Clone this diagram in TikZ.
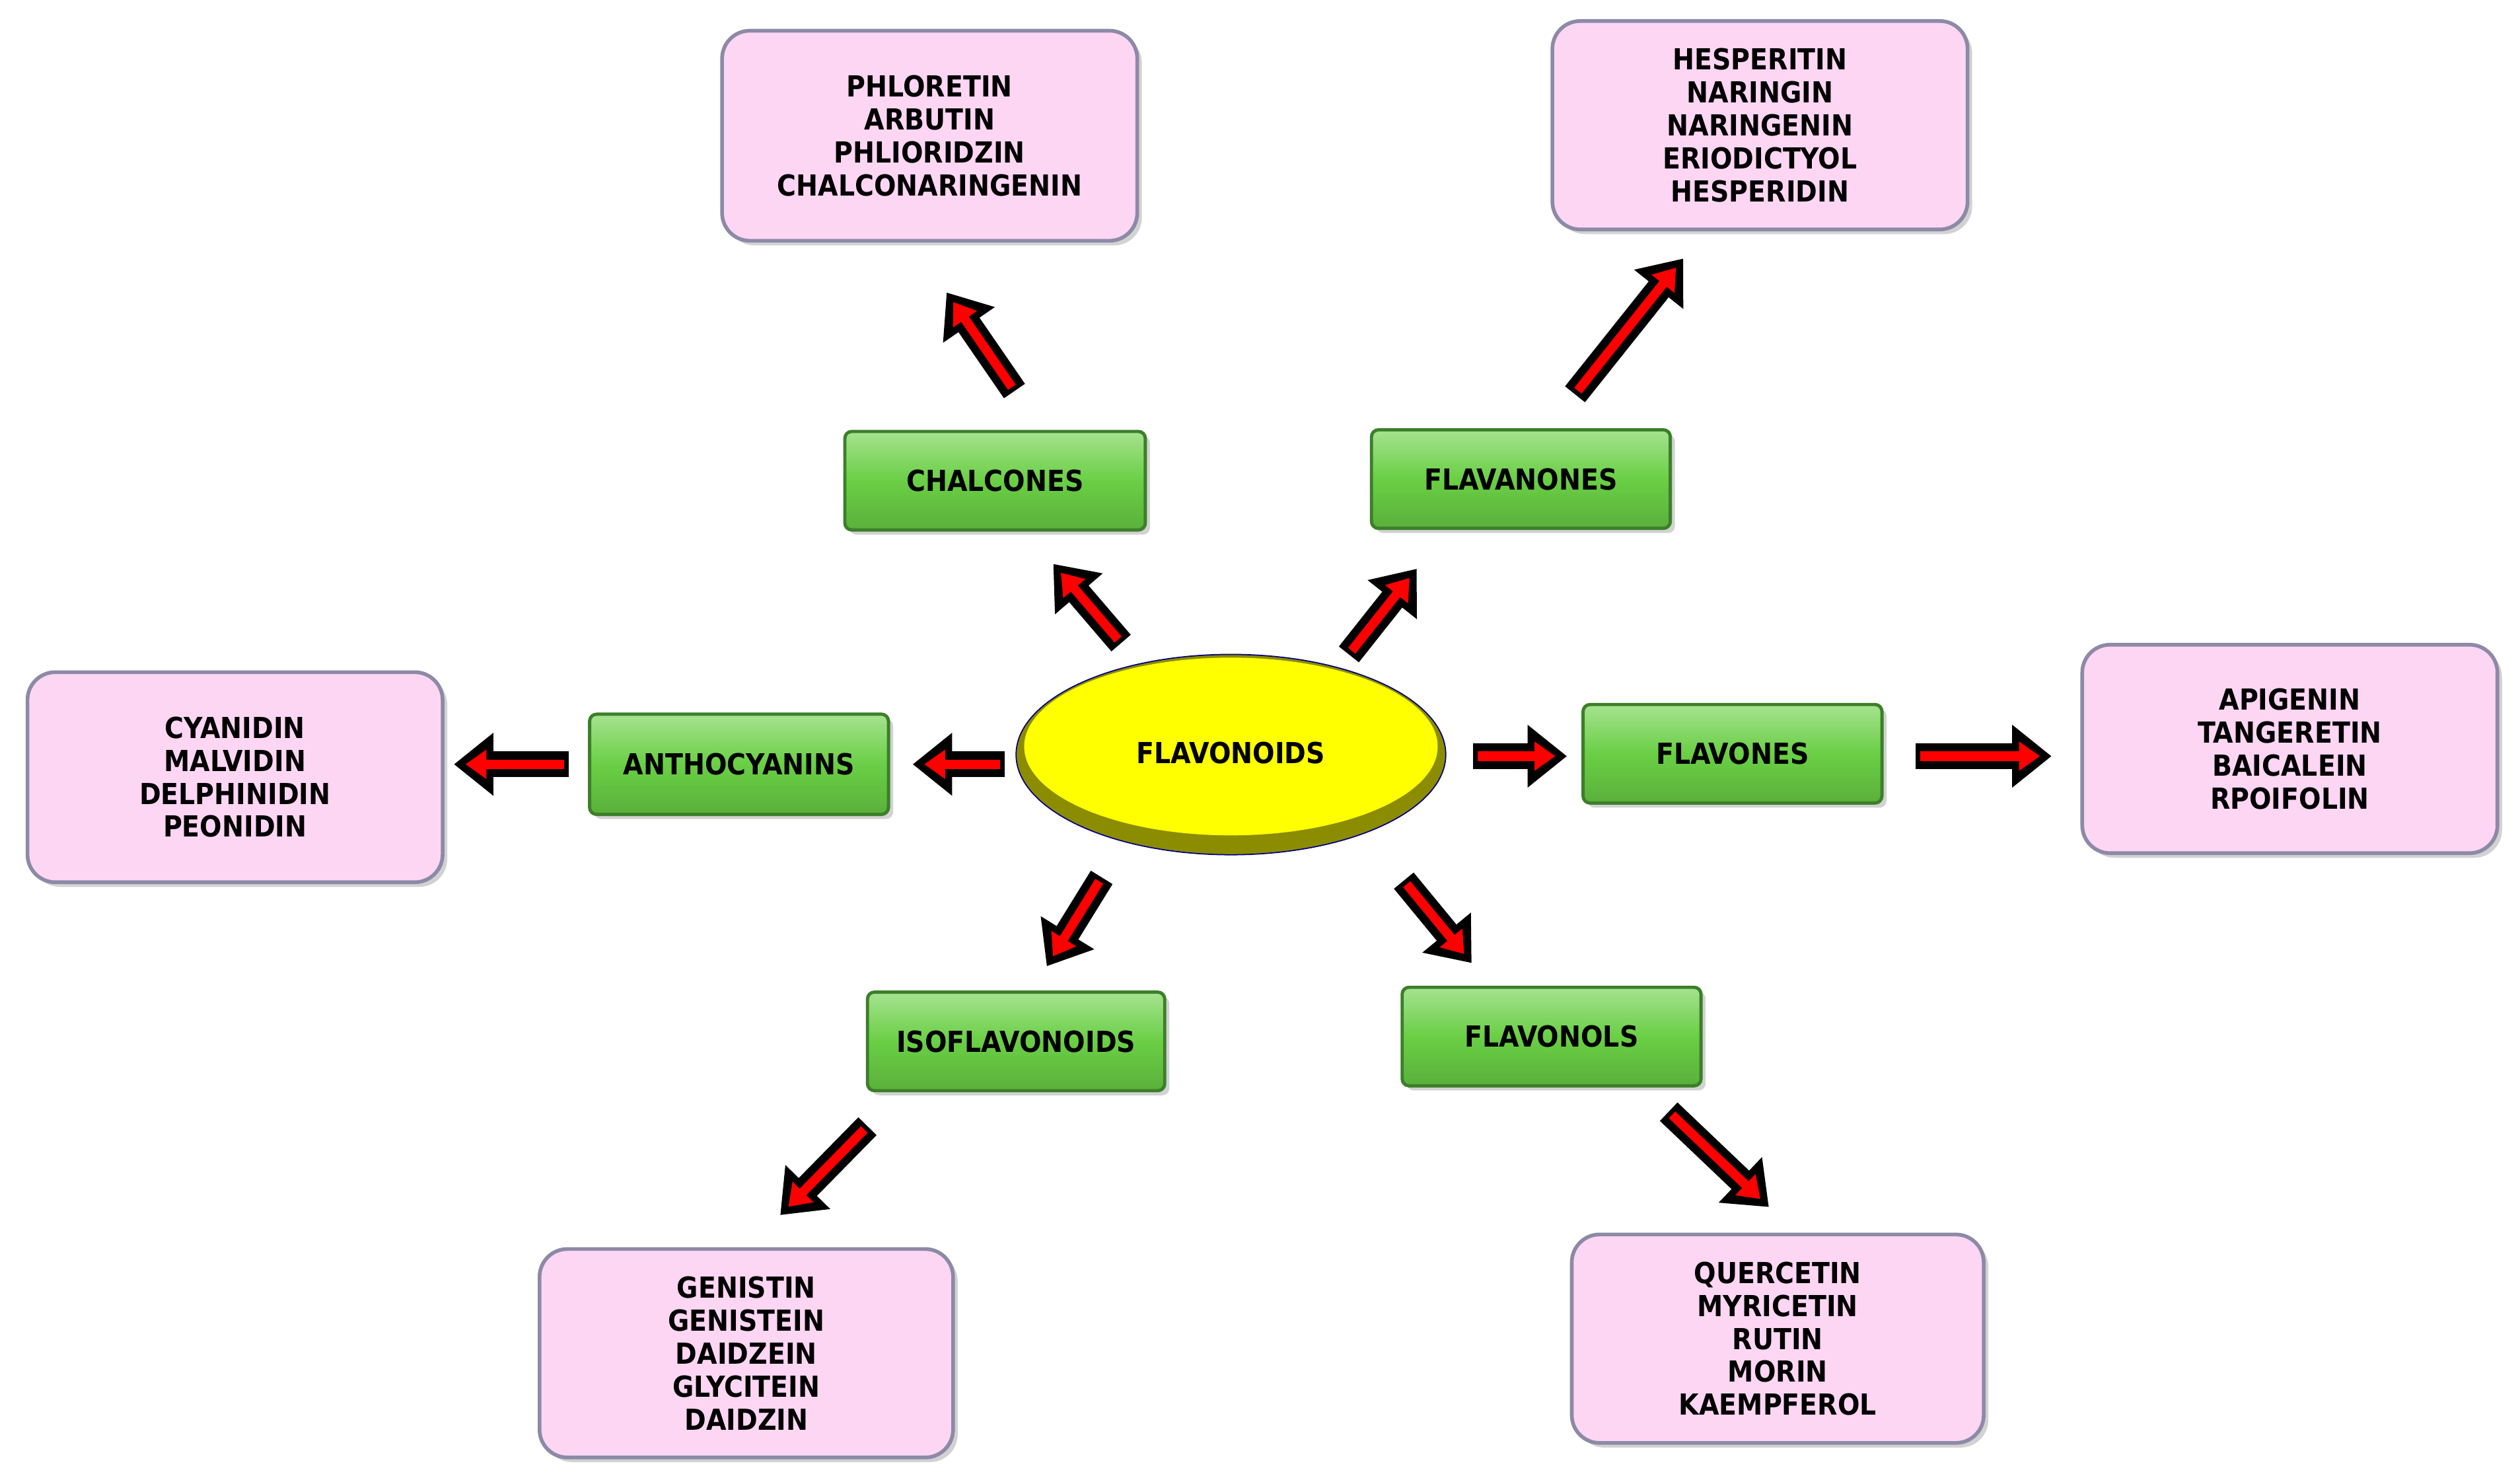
\documentclass[tikz,border=0pt]{standalone}
\usepackage{fontspec}
\setmainfont{DejaVu Sans Condensed}
\usetikzlibrary{arrows.meta,shapes.geometric,shadows}
\definecolor{pinkf}{HTML}{FDD6F4}
\definecolor{pinkd}{HTML}{8C8AA6}
\definecolor{greenf}{HTML}{6ACF45}
\definecolor{greend}{HTML}{3C7F2A}
\definecolor{yel}{HTML}{FFFF00}
\definecolor{olive}{HTML}{8C8C00}
\tikzset{
 pbox/.style={draw=pinkd,line width=1.6pt,rounded corners=12pt,fill=pinkf,
   drop shadow={shadow xshift=2pt,shadow yshift=-2pt,fill=black!35},
   align=center,font=\bfseries\fontsize{12.5}{14.2}\selectfont,inner sep=0pt},
 gbox/.style={draw=greend,line width=1.4pt,rounded corners=3pt,
   top color=greenf!60!white,bottom color=greenf!85!black,middle color=greenf,
   drop shadow={shadow xshift=2pt,shadow yshift=-2pt,fill=black!35},
   font=\bfseries\fontsize{12.5}{14}\selectfont,inner sep=0pt},
 aout/.style={line width=11pt,black,-{Triangle[length=17pt 0,width=26pt 0]}},
 ain/.style={line width=4pt,red,shorten >=5pt,shorten <=2pt,-{Triangle[length=9pt 0,width=12pt 0]}},
}
\newcommand\barrow[2]{\draw[aout] (#1) -- (#2); \draw[ain] (#1) -- (#2);}
\begin{document}
\begin{tikzpicture}[x=0.0245cm,y=-0.0245cm]
\useasboundingbox (0,0) rectangle (1560,917);
% pink boxes
\node[pbox,minimum width=257*0.0245cm,minimum height=130*0.0245cm] (p1) at (575.5,84) {PHLORETIN\\ARBUTIN\\PHLIORIDZIN\\CHALCONARINGENIN};
\node[pbox,minimum width=257*0.0245cm,minimum height=129*0.0245cm] (p2) at (1089.5,77.5) {HESPERITIN\\NARINGIN\\NARINGENIN\\ERIODICTYOL\\HESPERIDIN};
\node[pbox,minimum width=257*0.0245cm,minimum height=130*0.0245cm] (p3) at (145.5,481) {CYANIDIN\\MALVIDIN\\DELPHINIDIN\\PEONIDIN};
\node[pbox,minimum width=257*0.0245cm,minimum height=129*0.0245cm] (p4) at (1417.5,463.5) {APIGENIN\\TANGERETIN\\BAICALEIN\\RPOIFOLIN};
\node[pbox,minimum width=256*0.0245cm,minimum height=129*0.0245cm] (p5) at (462,837.5) {GENISTIN\\GENISTEIN\\DAIDZEIN\\GLYCITEIN\\DAIDZIN};
\node[pbox,minimum width=255*0.0245cm,minimum height=129*0.0245cm] (p6) at (1100.5,828.5) {QUERCETIN\\MYRICETIN\\RUTIN\\MORIN\\KAEMPFEROL};
% green boxes
\node[gbox,minimum width=186*0.0245cm,minimum height=61*0.0245cm] (g1) at (616,297.5) {CHALCONES};
\node[gbox,minimum width=185*0.0245cm,minimum height=61*0.0245cm] (g2) at (941.5,296.5) {FLAVANONES};
\node[gbox,minimum width=185*0.0245cm,minimum height=62*0.0245cm] (g3) at (457.5,473) {ANTHOCYANINS};
\node[gbox,minimum width=185*0.0245cm,minimum height=61*0.0245cm] (g4) at (1072.5,466.5) {FLAVONES};
\node[gbox,minimum width=184*0.0245cm,minimum height=61*0.0245cm] (g5) at (629,644.5) {ISOFLAVONOIDS};
\node[gbox,minimum width=185*0.0245cm,minimum height=61*0.0245cm] (g6) at (960.5,641.5) {FLAVONOLS};
% ellipse
\fill[olive] (762,467) ellipse [x radius=133,y radius=62];
\fill[yel] (762,462) ellipse [x radius=128,y radius=55];
\node[ellipse,draw=blue!50!black,line width=0.5pt,minimum width=266*0.0245cm,minimum height=124*0.0245cm,
  font=\bfseries\fontsize{12.5}{14}\selectfont,inner sep=0pt] (f) at (762,467) {};
\node[font=\bfseries\fontsize{12.5}{14}\selectfont] (ft) at (762,466) {FLAVONOIDS};
% arrow coordinates
\coordinate (a1s) at (628,242); \coordinate (a1e) at (586,181);
\coordinate (a2s) at (694,398); \coordinate (a2e) at (652,349);
\coordinate (a3s) at (835,405); \coordinate (a3e) at (877,352);
\coordinate (a4s) at (975,244); \coordinate (a4e) at (1042,160);
\coordinate (a5s) at (622,473); \coordinate (a5e) at (565,473);
\coordinate (a6s) at (352,473); \coordinate (a6e) at (281,473);
\coordinate (a7s) at (912,468); \coordinate (a7e) at (970,468);
\coordinate (a8s) at (1186,468); \coordinate (a8e) at (1270,468);
\coordinate (a9s) at (682,543); \coordinate (a9e) at (648,598);
\coordinate (a10s) at (537,697); \coordinate (a10e) at (483,752);
\coordinate (a11s) at (869,545); \coordinate (a11e) at (911,596);
\coordinate (a12s) at (1033,688); \coordinate (a12e) at (1095,747);
\foreach \i in {1,...,12}{\barrow{a\i s}{a\i e}}
\end{tikzpicture}
\end{document}
